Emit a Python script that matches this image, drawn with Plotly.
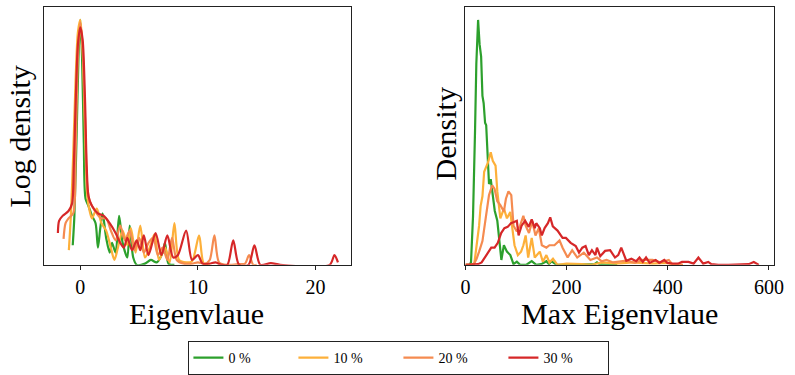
import plotly.graph_objects as go

# ---------------- data ----------------
series_names = ["0 %", "10 %", "20 %", "30 %"]
series_colors = ["#2ca02c", "#fdb03a", "#f58b50", "#d62728"]

# Left panel: eigenvalue spectrum (log density, arbitrary units 0..100)
eig_x_0 = [-0.64, -0.5, -0.3, -0.15, 0, 0.15, 0.3, 0.45, 0.7, 1.0, 1.3, 1.5, 1.7, 1.9, 2.2, 2.5, 2.7, 3.0,
           3.3, 3.6, 4.0, 4.2, 4.5, 4.8, 5.5, 6.0, 6.5, 7.0, 7.2, 7.5, 8.0]
eig_y_0 = [8, 20, 55, 85, 100, 85, 50, 27, 24, 20, 17, 7, 15, 21, 11, 5, 9, 5,
           20, 9, 3, 16, 3, 0, 0.5, 2, 1, 5, 9, 0.5, 0]

eig_x_10 = [-0.97, -0.8, -0.6, -0.4, -0.2, 0, 0.2, 0.4, 0.6, 0.8, 1.0, 1.4, 1.8, 2.2, 2.6, 2.9, 3.2, 3.6,
            4.0, 4.3, 4.7, 5.1, 5.5, 5.9, 6.3, 6.7, 7.2, 7.6, 8.0, 8.4, 9.0, 9.5, 10.1, 10.5, 11.0]
eig_y_10 = [6, 20, 45, 75, 95, 100, 88, 55, 28, 22, 19, 23, 17, 14, 7, 2, 7, 14,
            8, 15, 5, 16, 3, 7, 12.5, 2, 7, 1, 17, 2, 1, 1.5, 12, 0.5, 0]

eig_x_20 = [-1.42, -1.25, -1.0, -0.6, -0.4, -0.2, 0, 0.2, 0.4, 0.6, 0.8, 1.0, 1.4, 1.8, 2.2, 2.6, 3.0, 3.4,
            3.8, 4.2, 4.6, 5.0, 5.4, 5.8, 6.2, 6.6, 7.0, 7.4, 7.8, 8.2, 8.8, 9.5, 10.0, 10.6, 11.0, 11.4,
            11.8, 12.5, 13.5, 14.0, 14.35, 14.7, 15.0]
eig_y_20 = [10.6, 17, 19, 21, 45, 85, 99, 88, 60, 32, 26, 24, 21, 19, 19, 14, 10, 16,
            10, 14, 6, 11, 5, 9, 11, 4, 7, 2, 11, 2, 0.5, 0.5, 1, 0.5, 2, 12,
            1, 0, 0.3, 0.5, 4, 0, 0]

eig_x_30 = [-1.9, -1.8, -1.5, -1.0, -0.7, -0.55, -0.4, -0.2, 0, 0.2, 0.4, 0.55, 0.7, 1.0, 1.5, 2.0, 2.5,
            3.0, 3.4, 3.7, 4.0, 4.4, 4.8, 5.1, 5.4, 5.8, 6.4, 6.9, 7.4, 7.9, 8.3, 9.0, 9.5, 10.0, 10.4,
            11.0, 11.5, 12.0, 12.5, 13.0, 13.5, 14.3, 14.8, 15.3, 16.2, 17.0, 21.2, 21.6, 21.9]
eig_y_30 = [13, 18, 20, 22, 25, 40, 65, 90, 97, 92, 68, 40, 28, 24, 21, 20, 17,
            13, 9, 7, 11, 6, 10, 6, 12, 4, 13, 4, 12, 3, 4, 14, 2, 4, 0.5,
            0.5, 1, 0, 0, 10, 0, 0, 8, 0, 0.7, 0, 0, 4, 1]

# Right panel: max eigenvalue distribution (density, arbitrary units 0..100)
max_x_0 = [0, 8, 11, 15, 19, 21.5, 25, 28, 31, 33.6, 36, 38.8, 41, 43.4, 46.6, 50, 53, 58, 63, 67, 71,
           76, 82, 88.7, 95, 101.6, 108, 120, 131, 140, 150, 160, 165, 170, 180, 200, 240, 255, 260,
           265, 280, 300]
max_y_0 = [0, 0, 1, 20, 55, 82, 100, 90, 85, 69, 66, 58, 57, 46, 33, 35, 30, 22, 18, 10, 2,
           8, 5.4, 4, 0.3, 1.3, 0, 0, 1.5, 0, 0.3, 1.5, 0.3, 1.5, 0, 0, 0, 0.3, 1,
           0.3, 0, 0]

max_x_10 = [0, 12, 17.5, 22, 27, 30, 33.6, 37, 41.5, 45, 50, 54, 59.5, 63, 69, 76, 82, 88.7, 92, 97,
            103.6, 110, 114.5, 119, 124, 131, 137, 147, 153, 160, 166, 173, 182, 200, 230, 250, 270,
            300, 330, 370, 400, 410, 430]
max_y_10 = [0, 0, 0.5, 8, 16, 24, 28, 38, 40.5, 42, 46, 42.5, 40.5, 30, 19, 23, 19, 21.6, 16, 8,
            4, 5.4, 8, 12, 3, 11, 3, 5.4, 1.3, 4, 1, 2.5, 0, 0.5, 0.3, 0, 1,
            0.5, 1, 0.5, 0.8, 0, 0]

max_x_20 = [0, 12, 17, 22, 27, 33.6, 40, 46.6, 53, 57.6, 63, 69, 76, 80, 85, 90.6, 95, 101.6, 108,
            114.5, 119, 125.6, 132, 138.5, 145, 151, 160, 166, 176, 186, 192, 202, 211, 221, 234,
            247, 260, 269, 279, 292, 318, 335, 351, 370, 385, 402, 410, 430]
max_y_20 = [0, 0, 0.5, 2.5, 5.4, 9.7, 19, 28.5, 32.5, 31, 26, 24.4, 21.8, 27, 30, 28.5, 16, 13.6, 16,
            20, 16, 13, 17.8, 12, 15, 8, 7, 8, 8, 10, 7, 3, 6, 3, 5,
            2, 3, 1.5, 2, 1, 1.7, 0.8, 2, 2, 1, 2, 0, 0]

max_x_30 = [0, 15, 25, 32, 38, 44.7, 51, 57.6, 64, 70.6, 77, 83.5, 90, 96, 101.6, 105, 111, 118, 125,
            131, 137, 140, 147, 151, 156.5, 163, 167.6, 172.7, 182, 192, 198.6, 208, 218, 224.5, 231,
            237.5, 244, 250, 257, 260, 266.5, 276, 286, 295.6, 302, 308, 318, 328, 337.5, 344, 350.6,
            357, 364, 376, 383, 393, 399, 409, 420, 428, 441, 451, 460.5, 470, 480, 486, 500, 520,
            540, 560, 570, 580]
max_y_30 = [0, 0, 0.3, 1, 3, 5, 7, 7, 9, 13, 15, 15.5, 17, 17.5, 18, 12, 16, 18, 15.5,
            18.6, 15, 17, 15, 12, 15, 17, 19.4, 15.7, 14, 11, 11, 9, 7.7, 5, 7,
            7.7, 4, 6, 4, 7, 3.5, 5.7, 6, 3, 4, 7, 1.7, 2.5, 1.5, 3, 1.2,
            3, 0.8, 2, 0.8, 2, 0.8, 0.5, 0.5, 1.2, 1.2, 0.5, 3, 0.5, 1.2, 0.3, 0, 0,
            0, 0.3, 1.2, 0]

left_ticks = [0, 10, 20]
right_ticks = [0, 200, 400, 600]

# ---------------- figure ----------------
FONT = "Liberation Serif, Times New Roman, serif"
W, H = 795, 375

fig = go.Figure()

left_series = [(eig_x_0, eig_y_0), (eig_x_10, eig_y_10), (eig_x_20, eig_y_20), (eig_x_30, eig_y_30)]
right_series = [(max_x_0, max_y_0), (max_x_10, max_y_10), (max_x_20, max_y_20), (max_x_30, max_y_30)]

for i, (xs, ys) in enumerate(left_series):
    fig.add_trace(go.Scatter(x=xs, y=ys, mode="lines", name=series_names[i],
                             line=dict(color=series_colors[i], width=2.2, shape="spline", smoothing=0.8),
                             xaxis="x", yaxis="y", showlegend=True, legendgroup=series_names[i]))
for i, (xs, ys) in enumerate(right_series):
    fig.add_trace(go.Scatter(x=xs, y=ys, mode="lines", name=series_names[i],
                             line=dict(color=series_colors[i], width=2.2),
                             xaxis="x2", yaxis="y2", showlegend=False, legendgroup=series_names[i]))

axis_common = dict(showline=True, linecolor="#222", linewidth=1, mirror=True, showgrid=False,
                   zeroline=False)

ytop = 1 - 7 / H
ybot = 1 - 267 / H
tick_font = dict(size=20, family=FONT, color="black")

fig.update_layout(
    width=W, height=H,
    margin=dict(l=0, r=0, t=0, b=0),
    paper_bgcolor="white", plot_bgcolor="white",
    font=dict(family=FONT, color="black"),
    xaxis=dict(domain=[39.3 / W, 352.3 / W], range=[-3.12, 22.98], tickvals=left_ticks,
               ticks="outside", ticklen=4, tickcolor="#222", tickfont=tick_font,
               anchor="y", **axis_common),
    yaxis=dict(domain=[ybot, ytop], range=[0, 105.3], showticklabels=False, ticks="",
               anchor="x", **axis_common),
    xaxis2=dict(domain=[469.3 / W, 783.3 / W], range=[0, 609], tickvals=right_ticks,
                ticks="outside", ticklen=4, tickcolor="#222", tickfont=tick_font,
                anchor="y2", **axis_common),
    yaxis2=dict(domain=[ybot, ytop], range=[0, 105.3], showticklabels=False, ticks="",
                anchor="x2", **axis_common),
    legend=dict(orientation="h", x=401.5 / W, xanchor="center", y=1 - 344 / H, yanchor="top",
                bordercolor="#222", borderwidth=1, font=dict(size=14, family=FONT, color="black"),
                entrywidth=60, entrywidthmode="pixels", bgcolor="white"),
    showlegend=True,
)

title_font = dict(size=30, family=FONT, color="black")
annots = [
    dict(text="Eigenvlaue", x=195.5 / W, y=1 - 316 / H, textangle=0),
    dict(text="Max Eigenvlaue", x=626 / W, y=1 - 316 / H, textangle=0),
    dict(text="Log density", x=15 / W, y=1 - 137 / H, textangle=-90),
    dict(text="Density", x=449 / W, y=1 - 135 / H, textangle=-90),
]
for a in annots:
    fig.add_annotation(xref="paper", yref="paper", showarrow=False, xanchor="center",
                       yanchor="middle", font=title_font, **a)

fig.write_html("out.html")
